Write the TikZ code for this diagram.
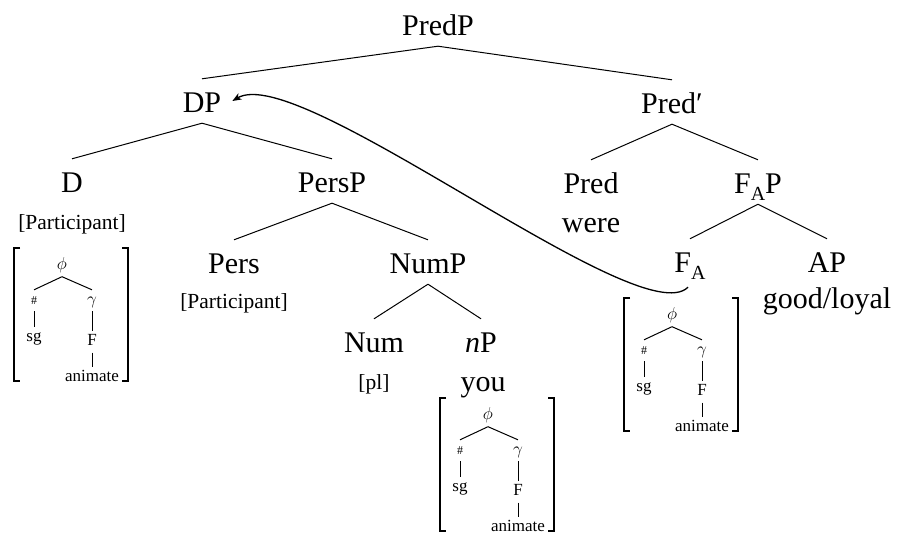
\documentclass[tikz,border=0pt]{standalone}
\usepackage{fontspec}
\setmainfont{Liberation Serif}
\usetikzlibrary{arrows.meta}
\newcommand\subA{\raisebox{-0.24em}{\fontsize{20}{24}\selectfont A}}
% bracketed phi-feature tree; #1 = name prefix, (#2,#3) = centre of the phi
\newcommand\phimatrix[3]{%
  \begin{scope}[shift={(#2,#3)}]
    \node[tinyf] (#1-phi) at (0,4.5) {$\phi$};
    \node[tinyf] (#1-num) at (-28,39) {{\fontsize{12}{14}\selectfont\#}};
    \node[tinyf] (#1-gam) at (30,39) {$\gamma$};
    \node[tinyf] (#1-sg) at (-28,76) {sg};
    \node[tinyf] (#1-F) at (30,80.5) {F};
    \node[tinyf] (#1-an) at (30,116) {animate};
    \draw[edge] (#1-phi.south) -- (#1-num.north);
    \draw[edge] (#1-phi.south) -- (#1-gam.north);
    \draw[edge] (#1-num.south) -- (#1-sg.north);
    \draw[edge] (#1-gam.south) -- (#1-F.north);
    \draw[edge] (#1-F.south) -- (#1-an.north);
    \draw[brk] (-42,-17) -- (-48,-17) -- (-48,116) -- (-42,116);
    \draw[brk] (60,-17) -- (66,-17) -- (66,116) -- (60,116);
  \end{scope}}
\begin{document}
\begin{tikzpicture}[x=1pt,y=-1pt,
  cat/.style={font=\fontsize{30}{36}\selectfont, anchor=base, inner xsep=11pt,
              inner ysep=11pt, text height=22pt, text depth=0pt},
  lex/.style={font=\fontsize{30}{36}\selectfont, anchor=base, inner sep=0pt},
  feat/.style={font=\fontsize{21.5}{26}\selectfont, anchor=base, inner sep=0pt},
  tinyf/.style={font=\fontsize{17}{20}\selectfont, anchor=base, inner sep=0pt,
                text height=14pt, text depth=7pt},
  edge/.style={line width=1pt},
  brk/.style={line width=1.4pt},
  mv/.style={line width=1.3pt, -{Stealth[length=9pt,width=7pt,inset=2.5pt]}}
]
\useasboundingbox (0,0) rectangle (897,533);

% categories
\node[cat] (PredP) at (438,35) {PredP};
\node[cat] (DP) at (202,112) {DP};
\node[cat] (Predbar) at (672,113) {Pred′};
\node[cat] (D) at (72,192) {D};
\node[cat] (PersP) at (332,192) {PersP};
\node[cat] (Pred) at (591,193) {Pred};
\node[cat] (FAP) at (758,193) {F\subA P};
\node[cat] (Pers) at (234,273) {Pers};
\node[cat] (NumP) at (428,273) {NumP};
\node[cat] (FA) at (690,272) {F\subA};
\node[cat] (AP) at (827,272) {AP};
\node[cat] (Num) at (374,352) {Num};
\node[cat] (nP) at (481,352) {\textit{n}P};

% lexical items and features
\node[lex] (were) at (591,232) {were};
\node[lex] (good) at (827,308) {good/loyal};
\node[lex] (you) at (483,391) {you};
\node[feat] (Dfeat) at (72,229) {[Participant]};
\node[feat] (Persfeat) at (234,308) {[Participant]};
\node[feat] (Numfeat) at (374,389) {[pl]};

% tree branches
\draw[edge] (PredP.south) -- (DP.north);
\draw[edge] (PredP.south) -- (Predbar.north);
\draw[edge] (DP.south) -- (D.north);
\draw[edge] (DP.south) -- (PersP.north);
\draw[edge] (PersP.south) -- (Pers.north);
\draw[edge] (PersP.south) -- (NumP.north);
\draw[edge] (NumP.south) -- (Num.north);
\draw[edge] (NumP.south) -- (nP.north);
\draw[edge] (Predbar.south) -- (Pred.north);
\draw[edge] (Predbar.south) -- (FAP.north);
\draw[edge] (FAP.south) -- (FA.north);
\draw[edge] (FAP.south) -- (AP.north);

% phi-feature bundles
\phimatrix{d}{62}{265}
\phimatrix{n}{488}{415}
\phimatrix{f}{672}{315}

% movement arrow
\draw[mv] ([xshift=-2pt,yshift=-4pt]FA.south) .. controls +(-48,48) and +(67,-40) .. (DP.east);
\end{tikzpicture}
\end{document}
